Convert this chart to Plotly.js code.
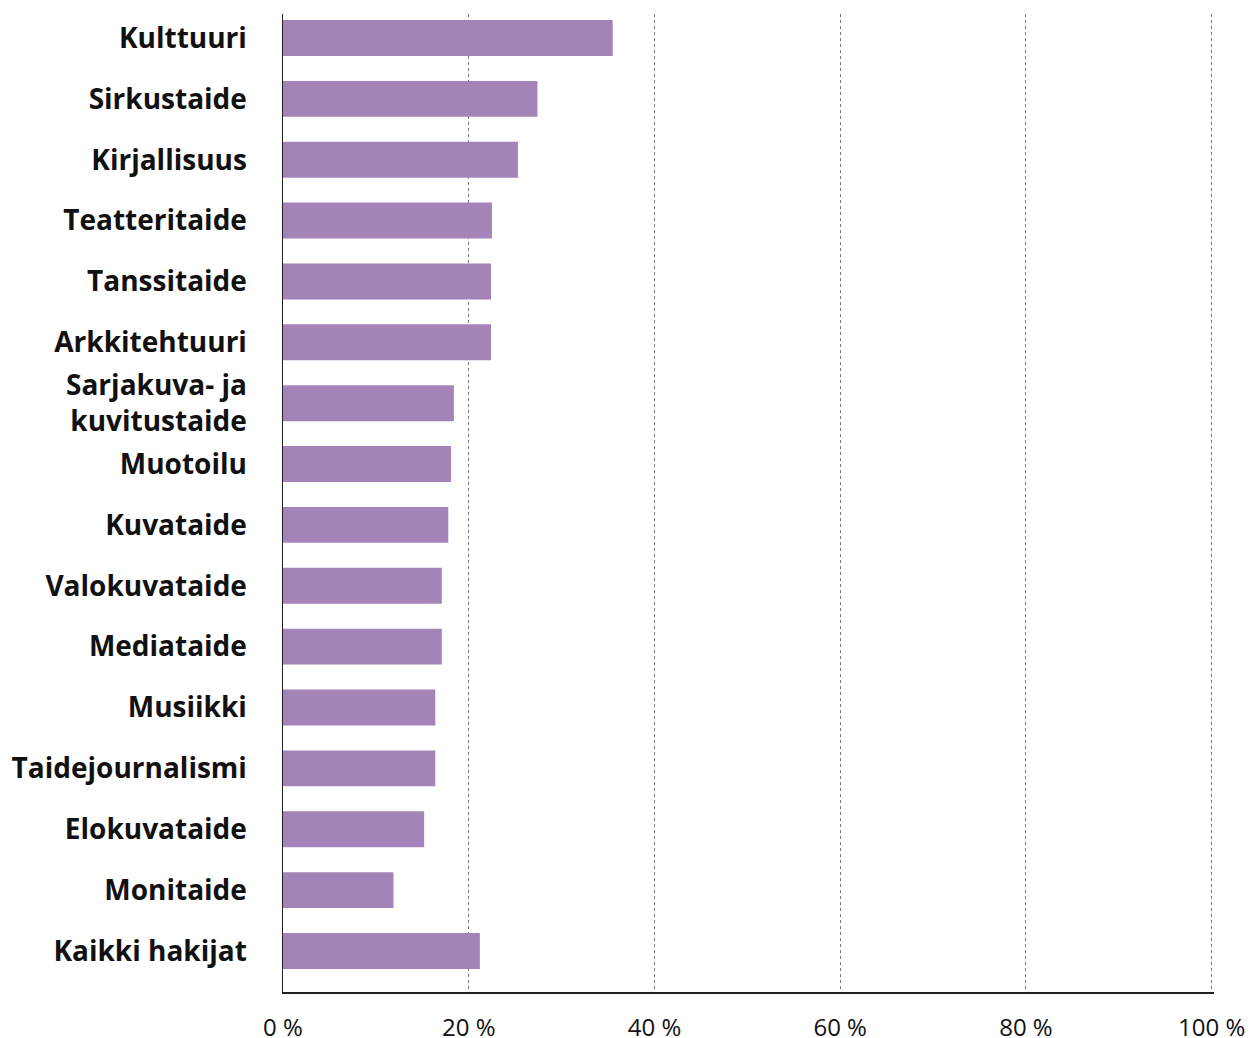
<!DOCTYPE html>
<html>
<head>
<meta charset="utf-8">
<script src="https://cdn.plot.ly/plotly-3.0.1.min.js"></script>
<style>html,body{margin:0;padding:0;background:#fff;}#chart{width:1251px;height:1038px;}</style>
</head>
<body>
<div id="chart"></div>
<script>
const categories = [
  "Kulttuuri", "Sirkustaide", "Kirjallisuus", "Teatteritaide", "Tanssitaide",
  "Arkkitehtuuri", "Sarjakuva- ja<br>kuvitustaide", "Muotoilu", "Kuvataide",
  "Valokuvataide", "Mediataide", "Musiikki", "Taidejournalismi",
  "Elokuvataide", "Monitaide", "Kaikki hakijat"
];
const values = [35.5, 27.4, 25.3, 22.5, 22.4, 22.4, 18.4, 18.1, 17.8, 17.1, 17.1, 16.4, 16.4, 15.2, 11.9, 21.2];
const tickVals = [0, 20, 40, 60, 80, 100];
const tickText = ["0 %", "20 %", "40 %", "60 %", "80 %", "100 %"];

const trace = {
  type: "bar",
  orientation: "h",
  y: categories,
  x: values,
  marker: {color: "#a484b8"},
  width: 0.59,
  hoverinfo: "x+y"
};

const layout = {
  width: 1251, height: 1038,
  margin: {l: 283, r: 37, t: 14, b: 46},
  paper_bgcolor: "#fff", plot_bgcolor: "#fff",
  showlegend: false,
  font: {family: "Open Sans, Noto Sans, sans-serif", color: "#000"},
  xaxis: {
    range: [0, 100.25],
    tickvals: tickVals, ticktext: tickText,
    showgrid: true, gridcolor: "#777", griddash: "dot", gridwidth: 1,
    zeroline: false,
    showline: true, linecolor: "#222", linewidth: 1.5,
    ticks: "", ticklabelstandoff: 14,
    tickfont: {size: 24, color: "#111"},
    fixedrange: true
  },
  yaxis: {
    type: "category",
    categoryorder: "array", categoryarray: categories,
    range: [15.674, -0.394],
    showline: true, linecolor: "#222", linewidth: 1.5,
    showgrid: false, zeroline: false,
    ticks: "", ticklabelstandoff: 29,
    tickfont: {size: 28, color: "#111", weight: "bold", family: "Open Sans, Noto Sans, sans-serif"},
    fixedrange: true
  }
};

Plotly.newPlot("chart", [trace], layout, {displayModeBar: false, staticPlot: true});
</script>
</body>
</html>
